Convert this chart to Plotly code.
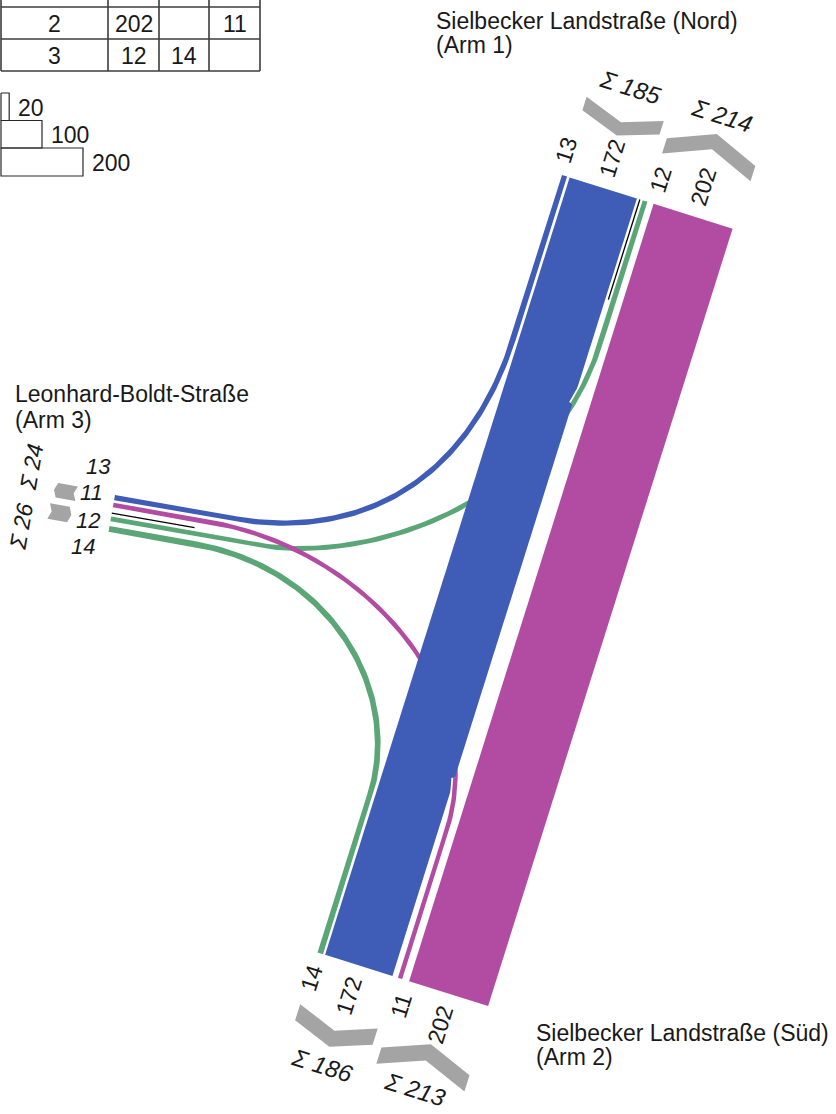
import numpy as np
import plotly.graph_objects as go

# Knotenstrommatrix (Kfz): row = from arm, columns = to arm 1 / 2 / 3
from_arm = ['1', '2', '3']
to_arm_1 = [None, 202, 12]
to_arm_2 = [172, None, 14]
to_arm_3 = [13, 11, None]

# width legend
scale_values = [20, 100, 200]

arm_names = ['Sielbecker Landstraße (Nord)', 'Sielbecker Landstraße (Süd)', 'Leonhard-Boldt-Straße']
arm_ids = ['(Arm 1)', '(Arm 2)', '(Arm 3)']

# Colors
blue = 'rgb(63,92,182)'
magenta = 'rgb(178,76,162)'
green = 'rgb(91,166,119)'
grey = 'rgb(164,164,164)'
ink = 'rgb(25,25,25)'
FONT = 'Liberation Sans, Arial, sans-serif'

q_1_2, q_1_3 = to_arm_2[0], to_arm_3[0]
q_2_1, q_2_3 = to_arm_1[1], to_arm_3[1]
q_3_1, q_3_2 = to_arm_1[2], to_arm_2[2]

K = 0.41  # px per vehicle

# main road frame: s along road (arm 1 at s=0, arm 2 at s=ROAD_LEN), t across
O = np.array([562.0, 175.0])
U = np.array([-0.300, 0.954])
U = U / np.linalg.norm(U)
V = np.array([U[1], -U[0]])
ROAD_LEN = 815.0
ROAD_ANGLE = np.degrees(np.arctan2(U[1], U[0]))

# arm 3 frame: p along arm (towards junction), r across (downwards)
A3 = np.array([115.0, 495.0])
A = np.array([np.cos(np.radians(10)), np.sin(np.radians(10))])
N3 = np.array([-A[1], A[0]])


def road(s, t):
    return O + s * U + t * V


def arm3(p, r):
    return A3 + p * A + r * N3


def line_pts(a, b, n=12):
    tt = np.linspace(0, 1, n)[:, None]
    return a + (b - a) * tt


def bezier(p0, p1, p2, p3, n=90):
    tt = np.linspace(0, 1, n)[:, None]
    return (1 - tt) ** 3 * p0 + 3 * (1 - tt) ** 2 * tt * p1 + 3 * (1 - tt) * tt ** 2 * p2 + tt ** 3 * p3


def ribbon(pts, w):
    d = np.gradient(pts, axis=0)
    d = d / np.linalg.norm(d, axis=1, keepdims=True)
    n = np.column_stack([-d[:, 1], d[:, 0]])
    left = pts + n * w / 2
    right = pts - n * w / 2
    return np.vstack([left, right[::-1], left[:1]])


def add_poly(fig, poly, color):
    fig.add_trace(go.Scatter(x=poly[:, 0], y=poly[:, 1], mode='lines', fill='toself',
                             fillcolor=color, line=dict(width=0, color=color), hoverinfo='skip'))


def road_rect(s0, s1, t0, t1):
    return np.array([road(s0, t0), road(s0, t1), road(s1, t1), road(s1, t0), road(s0, t0)])


def chevron(frame, lat0, width, s_end, s_vtx, h):
    lat1 = lat0 + width
    latv = lat0 + width / 2
    pts = [frame(s_end - h / 2, lat0), frame(s_vtx - h / 2, latv), frame(s_end - h / 2, lat1),
           frame(s_end + h / 2, lat1), frame(s_vtx + h / 2, latv), frame(s_end + h / 2, lat0),
           frame(s_end - h / 2, lat0)]
    return np.array(pts)


def flow_path(r_edge, t_edge, w, straight, h1, s_join, h2, north):
    start = arm3(0, r_edge + w / 2)
    b0 = start + straight * A
    b1 = b0 + h1 * A
    R = road(s_join, t_edge + w / 2)
    if north:
        b2 = R + h2 * U
        end = road(0, t_edge + w / 2)
    else:
        b2 = R - h2 * U
        end = road(ROAD_LEN, t_edge + w / 2)
    return np.vstack([line_pts(start, b0)[:-1], bezier(b0, b1, b2, R), line_pts(R, end, 30)[1:]])


T_B172 = 8.0
T_M202 = 96.0

# turning flows to / from arm 3
flows = [
    dict(q=q_3_1, color=green, r=21.8, t=84.6, straight=150, h1=110, s_join=150, h2=170, north=True, over=True),
    dict(q=q_2_3, color=magenta, r=7.9, t=84.3, straight=100, h1=150, s_join=660, h2=150, north=False, over=True),
    dict(q=q_1_3, color=blue, r=0.0, t=0.0, straight=120, h1=130, s_join=170, h2=150, north=True, over=False),
    dict(q=q_3_2, color=green, r=31.6, t=0.0, straight=86, h1=140, s_join=650, h2=110, north=False, over=False),
]

fig = go.Figure()

paths = []
for f in flows:
    w = K * f['q']
    pts = flow_path(f['r'], f['t'], w, f['straight'], f['h1'], f['s_join'], f['h2'], f['north'])
    paths.append((f, w, pts))
    add_poly(fig, ribbon(pts, w), f['color'])

# through traffic arm 1 -> arm 2
add_poly(fig, road_rect(0, ROAD_LEN, T_B172, T_B172 + K * q_1_2), blue)

# turning flows emerging on the right side of the blue band
for f, w, pts in paths:
    if not f['over']:
        continue
    rel = pts - O
    s_val = rel @ U
    t_val = rel @ V
    mask = t_val > 78.5
    mask &= (s_val < 400) if f['north'] else (s_val > 400)
    seg = pts[mask]
    add_poly(fig, ribbon(seg, w + 3.5), 'white')
    add_poly(fig, ribbon(seg, w), f['color'])

# through traffic arm 2 -> arm 1
add_poly(fig, road_rect(0, ROAD_LEN, T_M202, T_M202 + K * q_2_1), magenta)

# thin black lines
for a, b in [(road(0, 81.6), road(105, 81.6)), (arm3(0, 18.4), arm3(84, 18.4))]:
    fig.add_trace(go.Scatter(x=[a[0], b[0]], y=[a[1], b[1]], mode='lines',
                             line=dict(color='black', width=1.3), hoverinfo='skip'))

# direction chevrons with sums
sum_1_out = q_1_2 + q_1_3
sum_1_in = q_2_1 + q_3_1
sum_2_in = q_1_2 + q_3_2
sum_2_out = q_2_1 + q_2_3
sum_3_in = q_1_3 + q_2_3
sum_3_out = q_3_1 + q_3_2

chevrons = [
    (road, 0.0, sum_1_out, -75, -61, 14, -104),
    (road, 89.0, sum_1_in, -58.5, -77.5, 16, -105),
    (road, -1.0, sum_2_in, 878, 893, 17, 921),
    (road, 89.5, sum_2_out, 895, 877, 17, 916),
    (arm3, -2.0, sum_3_in, -48, -51, 20, None),
    (arm3, 19.5, sum_3_out, -52.5, -49.5, 20, None),
]
for frame, lat0, total, s_end, s_vtx, h, s_txt in chevrons:
    width = K * total + 5
    add_poly(fig, chevron(frame, lat0, width, s_end, s_vtx, h), grey)
    if s_txt is not None:
        pos = road(s_txt, lat0 + width / 2 - 1)
        fig.add_annotation(x=pos[0], y=pos[1], text=f'<i>Σ {total}</i>', textangle=ROAD_ANGLE - 90,
                           showarrow=False, font=dict(family=FONT, size=24, color=ink))

# arm 3 sums (vertical text)
for r_txt, total in [(-12.7, sum_3_in), (47.0, sum_3_out)]:
    pos = arm3(-86.5, r_txt)
    fig.add_annotation(x=pos[0], y=pos[1], text=f'<i>Σ {total}</i>', textangle=-80,
                       showarrow=False, font=dict(family=FONT, size=23, color=ink))

# band labels at arm 1 and arm 2
CHAR = 0.556 * 23
top_labels = [(q_1_3, -3.0), (q_1_2, 43.0), (q_3_1, 95.5), (q_2_1, 138.0)]
bottom_labels = [(q_3_2, 1.5), (q_1_2, 43.0), (q_2_3, 95.5), (q_2_1, 138.5)]
for q, t in top_labels:
    pos = road(-12 - CHAR * len(str(q)) / 2, t)
    fig.add_annotation(x=pos[0], y=pos[1], text=str(q), textangle=ROAD_ANGLE - 180,
                       showarrow=False, font=dict(family=FONT, size=23, color=ink))
for q, t in bottom_labels:
    pos = road(ROAD_LEN + 13 + CHAR * len(str(q)) / 2, t)
    fig.add_annotation(x=pos[0], y=pos[1], text=str(q), textangle=ROAD_ANGLE - 180,
                       showarrow=False, font=dict(family=FONT, size=23, color=ink))

# band labels at arm 3
arm3_labels = [(q_1_3, -21.4, -24.8), (q_2_3, -24.0, 2.0), (q_3_1, -22.3, 30.1), (q_3_2, -22.9, 56.6)]
for q, p, r in arm3_labels:
    pos = arm3(p, r)
    fig.add_annotation(x=pos[0], y=pos[1], text=f'<i>{q}</i>', showarrow=False,
                       font=dict(family=FONT, size=22, color=ink))

# arm names
name_pos = [(434, 21, 45), (534, 1033, 1057), (13, 394, 420)]
for name, arm_id, (x, y1, y2) in zip(arm_names, arm_ids, name_pos):
    fig.add_annotation(x=x, y=y1, text=name, xanchor='left', showarrow=False,
                       font=dict(family=FONT, size=23, color=ink))
    fig.add_annotation(x=x, y=y2, text=arm_id, xanchor='left', showarrow=False,
                       font=dict(family=FONT, size=23, color=ink))

# matrix table (top row lies above the page)
col_x = [1, 108, 159, 209, 260]
row_y = [-25, 7, 39, 71]
for y in row_y[1:]:
    fig.add_trace(go.Scatter(x=[col_x[0], col_x[-1]], y=[y, y], mode='lines',
                             line=dict(color='rgb(60,60,60)', width=1.6), hoverinfo='skip'))
for x in col_x:
    fig.add_trace(go.Scatter(x=[x, x], y=[row_y[0], row_y[-1]], mode='lines',
                             line=dict(color='rgb(60,60,60)', width=1.6), hoverinfo='skip'))
for i, arm in enumerate(from_arm):
    yc = (row_y[i] + row_y[i + 1]) / 2 + 1
    cells = [arm, to_arm_1[i], to_arm_2[i], to_arm_3[i]]
    for j, val in enumerate(cells):
        if val is None:
            continue
        fig.add_annotation(x=(col_x[j] + col_x[j + 1]) / 2, y=yc, text=str(val), showarrow=False,
                           font=dict(family=FONT, size=23, color=ink))

# width scale
box_y = [93, 120.5, 148, 176]
for i, val in enumerate(scale_values):
    w = K * val
    y0, y1 = box_y[i], box_y[i + 1]
    fig.add_trace(go.Scatter(x=[1, 1 + w, 1 + w, 1, 1], y=[y0, y0, y1, y1, y0], mode='lines',
                             line=dict(color='rgb(40,40,40)', width=1.2), hoverinfo='skip'))
    fig.add_annotation(x=1 + w + 7, y=(y0 + y1) / 2 + 1, text=str(val), xanchor='left', showarrow=False,
                       font=dict(family=FONT, size=23, color=ink))

fig.update_layout(
    width=836, height=1114,
    margin=dict(l=0, r=0, t=0, b=0),
    plot_bgcolor='white', paper_bgcolor='white',
    showlegend=False,
    xaxis=dict(range=[0, 836], visible=False, fixedrange=True),
    yaxis=dict(range=[1114, 0], visible=False, fixedrange=True),
)

fig.write_html("out.html", config={'displayModeBar': False},
               post_script="document.body.style.margin='0';")
